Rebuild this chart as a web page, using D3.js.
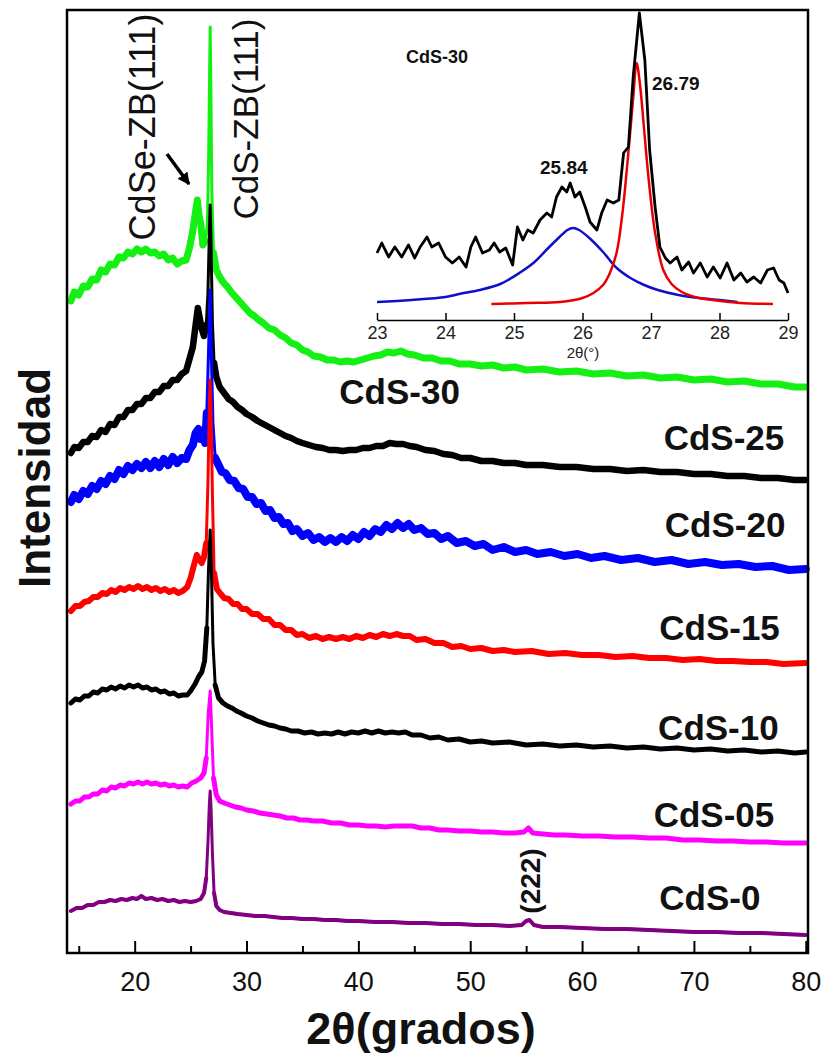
<!DOCTYPE html>
<html><head><meta charset="utf-8">
<script src="https://cdn.jsdelivr.net/npm/d3@7"></script>
<style>body{margin:0;background:#fff}svg{display:block}text{font-family:Arial,"Liberation Sans",sans-serif}</style>
</head><body><svg id="c" width="830" height="1059"></svg>
<script>
// ---- main chart data: [2theta (deg), intensity (a.u., stacked)] ----
const labels = ["CdS-30","CdS-25","CdS-20","CdS-15","CdS-10","CdS-05","CdS-0"];
const colors = ["#14f014","#000000","#0000ff","#ff0000","#000000","#ff00ff","#800080"];
const xMajorTicks = [20,30,40,50,60,70,80];
const xMinorTicks = [15,25,35,45,55,65,75];
const cds30 = [[14.3,652],[14.6,661],[15.0,658],[15.4,667],[15.8,666],[16.2,674],[16.6,673],[17.0,683],[17.4,681],[17.8,689],[18.2,688],[18.6,696],[19.0,695],[19.4,701],[19.8,699],[20.2,704],[20.6,701],[21.0,704],[21.4,700],[21.8,701],[22.2,697],[22.6,699],[23.0,693],[23.4,695],[23.8,689],[24.2,692],[24.6,693],[24.9,705],[25.2,722],[25.45,742],[25.6,753],[25.75,738],[25.9,730],[26.1,708],[26.3,712],[26.5,728],[26.62,800],[26.7,880],[26.75,926],[26.8,880],[26.9,760],[27.05,700],[27.3,683],[27.6,676],[27.9,671],[28.3,666],[28.7,660],[29.1,655],[29.5,650],[29.9,645],[30.3,640],[30.7,637],[31.1,633],[31.5,630],[32.0,625],[32.5,623],[33.0,618],[33.5,615],[34.0,610],[34.5,608],[35.0,603],[35.5,601],[36.0,597],[36.6,596],[37.2,593],[37.8,593],[38.4,591],[39.0,592],[39.6,591],[40.2,593],[40.8,595],[41.4,597],[42.0,598],[42.6,601],[43.2,600],[43.8,602],[44.4,599],[45.0,598],[45.8,595],[46.6,595],[47.4,592],[48.2,592],[49.0,589],[50.0,589],[51.0,587],[52.0,588],[53.0,585],[54.0,586],[55.0,583],[56.5,584],[58.0,581],[59.5,582],[61.0,579],[62.5,580],[64.0,577],[65.5,578],[67.0,575],[68.5,576],[70.0,573],[71.5,574],[73.0,571],[74.5,572],[76.0,569],[77.5,569],[79.0,566],[80.0,566]];
const cds25 = [[14.3,500],[14.6,506],[15.0,505],[15.4,511],[15.8,511],[16.2,517],[16.6,516],[17.0,523],[17.4,521],[17.8,529],[18.2,528],[18.6,536],[19.0,536],[19.4,543],[19.8,543],[20.2,549],[20.6,549],[21.0,555],[21.4,555],[21.8,561],[22.2,561],[22.6,567],[23.0,567],[23.4,573],[23.8,573],[24.2,579],[24.6,582],[24.9,594],[25.2,606],[25.45,628],[25.65,645],[25.8,636],[26.0,624],[26.2,617],[26.4,628],[26.55,660],[26.68,720],[26.75,748],[26.82,715],[26.95,630],[27.1,590],[27.3,576],[27.6,566],[28.0,560],[28.4,554],[28.8,551],[29.2,546],[29.6,543],[30.0,539],[30.5,536],[31.0,532],[31.5,529],[32.0,526],[32.5,523],[33.0,520],[33.5,517],[34.0,515],[34.5,512],[35.0,510],[35.6,508],[36.2,506],[36.8,505],[37.4,503],[38.0,503],[38.6,502],[39.2,503],[39.8,503],[40.4,505],[41.0,505],[41.6,507],[42.2,507],[42.8,510],[43.4,509],[44.0,509],[44.6,507],[45.2,506],[46.0,503],[46.8,502],[47.6,499],[48.4,498],[49.2,495],[50.0,495],[51.0,492],[52.0,492],[53.0,490],[54.0,490],[55.0,488],[56.5,488],[58.0,486],[59.5,486],[61.0,484],[62.5,484],[64.0,482],[65.5,483],[67.0,481],[68.5,481],[70.0,479],[71.5,479],[73.0,477],[74.5,477],[76.0,475],[77.5,475],[79.0,473],[80.0,473]];
const cds20 = [[14.3,451],[14.6,458],[15.0,454],[15.4,462],[15.8,459],[16.2,467],[16.6,464],[17.0,472],[17.4,469],[17.8,477],[18.2,474],[18.6,483],[19.0,479],[19.4,487],[19.8,483],[20.2,489],[20.6,485],[21.0,491],[21.4,485],[21.8,492],[22.2,486],[22.6,494],[23.0,488],[23.4,496],[23.8,490],[24.2,495],[24.6,494],[24.9,503],[25.2,508],[25.45,520],[25.7,524],[25.9,514],[26.1,518],[26.3,510],[26.45,540],[26.6,600],[26.75,663],[26.85,600],[27.0,530],[27.2,495],[27.5,488],[27.8,481],[28.1,480],[28.5,473],[28.9,472],[29.3,465],[29.7,464],[30.1,456],[30.5,456],[30.9,449],[31.3,450],[31.7,442],[32.1,443],[32.5,435],[32.9,436],[33.3,429],[33.7,430],[34.1,422],[34.5,424],[35.0,417],[35.5,420],[36.0,413],[36.5,416],[37.0,411],[37.5,415],[38.0,411],[38.5,416],[39.0,412],[39.5,418],[40.0,414],[40.5,421],[41.0,417],[41.5,424],[42.0,421],[42.5,428],[43.0,424],[43.5,430],[44.0,425],[44.5,429],[45.0,423],[45.6,425],[46.2,419],[46.8,420],[47.4,414],[48.0,417],[48.8,410],[49.6,412],[50.4,407],[51.2,409],[52.0,403],[53.0,406],[54.0,401],[55.0,403],[56.0,399],[57.2,401],[58.4,397],[59.6,399],[60.8,395],[62.0,397],[63.5,393],[65.0,395],[66.5,391],[68.0,393],[69.5,389],[71.0,391],[72.5,388],[74.0,389],[75.5,386],[77.0,387],[78.5,383],[80.0,384]];
const cds15 = [[14.3,342],[14.7,347],[15.1,347],[15.5,351],[15.9,352],[16.3,356],[16.7,356],[17.1,360],[17.5,359],[17.9,363],[18.3,361],[18.7,365],[19.1,363],[19.5,366],[19.9,364],[20.3,367],[20.7,364],[21.1,366],[21.5,363],[21.9,365],[22.3,362],[22.7,364],[23.1,361],[23.5,363],[23.9,360],[24.3,362],[24.7,366],[25.0,375],[25.3,388],[25.55,398],[25.75,394],[26.0,390],[26.2,396],[26.4,410],[26.55,470],[26.68,545],[26.75,573],[26.82,545],[26.95,460],[27.1,380],[27.35,364],[27.7,359],[28.0,355],[28.4,354],[28.8,349],[29.2,349],[29.6,344],[30.0,344],[30.5,339],[31.0,339],[31.5,334],[32.0,334],[32.5,328],[33.0,328],[33.5,323],[34.0,323],[34.5,318],[35.0,319],[35.6,315],[36.2,317],[36.8,314],[37.4,316],[38.0,314],[38.6,316],[39.2,314],[39.8,317],[40.4,315],[41.0,318],[41.6,316],[42.2,319],[42.8,317],[43.4,319],[44.0,317],[44.6,317],[45.2,313],[46.0,314],[46.8,310],[47.6,310],[48.4,306],[49.2,307],[50.0,304],[51.0,305],[52.0,302],[53.0,303],[54.0,301],[55.5,302],[57.0,299],[58.5,300],[60.0,298],[61.5,298],[63.0,296],[64.5,297],[66.0,295],[67.5,295],[69.0,293],[70.5,294],[72.0,292],[73.5,292],[75.0,291],[76.5,291],[78.0,289],[80.0,290]];
const cds10 = [[14.3,250],[14.7,254],[15.1,253],[15.5,257],[15.9,257],[16.3,261],[16.7,260],[17.1,264],[17.5,263],[17.9,266],[18.3,264],[18.7,267],[19.1,265],[19.5,268],[19.9,266],[20.3,268],[20.7,265],[21.1,266],[21.5,263],[21.9,264],[22.3,261],[22.7,262],[23.1,259],[23.5,260],[23.9,257],[24.3,258],[24.7,258],[25.0,262],[25.4,269],[25.7,276],[26.0,281],[26.25,292],[26.45,325],[26.6,383],[26.75,423],[26.85,390],[27.0,310],[27.2,268],[27.5,255],[27.9,250],[28.3,247],[28.7,245],[29.1,242],[29.5,240],[30.0,237],[30.5,235],[31.0,232],[31.5,230],[32.0,228],[32.5,227],[33.0,225],[33.5,224],[34.0,222],[34.6,222],[35.2,220],[35.8,221],[36.4,219],[37.0,220],[37.6,219],[38.2,221],[38.8,219],[39.4,221],[40.0,220],[40.6,222],[41.2,220],[41.8,222],[42.4,220],[43.0,221],[43.6,220],[44.2,221],[44.8,218],[45.6,218],[46.4,215],[47.2,216],[48.0,213],[49.0,214],[50.0,211],[51.0,212],[52.0,210],[53.5,211],[55.0,208],[56.5,209],[58.0,207],[59.5,208],[61.0,206],[62.5,207],[64.0,205],[65.5,206],[67.0,204],[68.5,205],[70.0,203],[71.5,204],[73.0,202],[74.5,203],[76.0,201],[77.5,202],[79.0,200],[80.0,201]];
const cds05 = [[14.3,149],[14.7,152],[15.1,152],[15.5,156],[15.9,156],[16.3,159],[16.7,159],[17.1,163],[17.5,162],[17.9,166],[18.3,165],[18.7,168],[19.1,167],[19.5,170],[19.9,169],[20.3,171],[20.7,169],[21.1,171],[21.5,169],[21.9,170],[22.3,168],[22.7,169],[23.1,167],[23.5,168],[23.9,166],[24.3,167],[24.7,166],[25.1,170],[25.5,172],[25.9,175],[26.2,180],[26.4,195],[26.58,240],[26.75,262],[26.88,225],[27.05,175],[27.3,158],[27.6,152],[28.0,150],[28.5,148],[29.0,146],[29.5,145],[30.0,143],[30.6,142],[31.2,140],[31.8,139],[32.4,138],[33.0,137],[33.6,135],[34.2,135],[34.8,133],[35.4,133],[36.0,132],[36.8,132],[37.6,130],[38.4,130],[39.2,128],[40.0,128],[40.8,127],[41.6,127],[42.4,126],[43.2,127],[44.0,127],[44.8,127],[45.6,125],[46.4,125],[47.2,123],[48.0,123],[49.0,122],[50.0,122],[51.0,121],[52.0,121],[53.0,120],[54.0,120],[54.8,121],[55.2,125],[55.6,120],[56.5,119],[57.5,118],[58.5,118],[60.0,117],[61.5,117],[63.0,116],[64.5,116],[66.0,115],[67.5,115],[69.0,113],[70.5,113],[72.0,112],[73.5,112],[75.0,111],[76.5,111],[78.0,110],[80.0,110]];
const cds0 = [[14.3,42],[14.8,45],[15.3,45],[15.8,48],[16.3,48],[16.8,51],[17.3,51],[17.8,53],[18.3,52],[18.8,54],[19.3,53],[19.8,55],[20.2,54],[20.6,57],[21.0,54],[21.5,55],[22.0,53],[22.5,54],[23.0,52],[23.5,53],[24.0,51],[24.5,52],[25.0,51],[25.5,52],[25.9,54],[26.2,60],[26.4,75],[26.55,110],[26.68,150],[26.75,162],[26.82,148],[26.95,100],[27.1,60],[27.3,47],[27.6,43],[28.0,41],[28.6,40],[29.2,39],[30.0,38],[30.8,37],[31.6,37],[32.4,36],[33.2,35],[34.0,35],[35.0,34],[36.0,34],[37.0,33],[38.0,33],[39.0,32],[40.0,32],[41.5,31],[43.0,31],[44.5,30],[46.0,30],[47.5,29],[49.0,29],[50.5,28],[52.0,28],[53.5,27],[54.6,28],[55.0,32],[55.3,33],[55.7,28],[56.5,26],[58.0,26],[60.0,25],[62.0,24],[64.0,24],[66.0,23],[68.0,22],[70.0,21],[72.0,21],[74.0,20],[76.0,20],[78.0,19],[80.0,18]];
const series = [cds30, cds25, cds20, cds15, cds10, cds05, cds0];
const strokeW = [7, 6.5, 8, 6, 5, 5, 4];
// label anchor positions (data coordinates)
const labelPos = [[38.3,549],[67.3,503],[67.4,416],[66.9,313],[66.8,213],[66.4,126],[66.9,43]];

// ---- inset data ----
const insetTicks = [23,24,25,26,27,28,29];
const insetRaw = [[23.0,67],[23.07,77],[23.17,63],[23.26,73],[23.36,63],[23.46,75],[23.55,62],[23.63,73],[23.73,83],[23.8,73],[23.9,77],[24.0,63],[24.1,57],[24.2,63],[24.3,53],[24.37,73],[24.44,83],[24.54,67],[24.64,70],[24.71,77],[24.79,68],[24.88,72],[24.98,55],[25.05,93],[25.13,80],[25.2,90],[25.28,87],[25.38,100],[25.48,107],[25.55,103],[25.62,123],[25.7,133],[25.77,128],[25.82,137],[25.89,123],[25.96,128],[26.04,113],[26.11,98],[26.21,90],[26.28,107],[26.36,120],[26.45,117],[26.53,120],[26.6,167],[26.67,173],[26.74,243],[26.83,307],[26.91,260],[26.98,170],[27.06,113],[27.13,73],[27.21,62],[27.28,57],[27.38,63],[27.45,50],[27.55,58],[27.62,47],[27.72,57],[27.82,43],[27.91,53],[28.01,42],[28.11,57],[28.21,40],[28.31,47],[28.4,38],[28.5,43],[28.6,37],[28.7,50],[28.79,52],[28.87,40],[28.94,37],[29.0,27]];
const fitBlue = [[23.0,18],[23.5,20],[24.0,23],[24.2,26],[24.5,30],[24.8,36],[25.1,48],[25.3,58],[25.5,72],[25.65,82],[25.78,90],[25.86,92],[25.95,90],[26.1,82],[26.3,68],[26.5,52],[26.7,42],[26.9,35],[27.1,30],[27.4,25],[27.7,22],[28.0,20],[28.26,18]];
const fitRed = [[24.67,16],[25.2,17],[25.67,18],[26.0,22],[26.16,27],[26.3,35],[26.4,47],[26.5,68],[26.58,105],[26.66,160],[26.74,222],[26.79,257],[26.84,235],[26.9,190],[26.97,138],[27.06,87],[27.18,50],[27.3,36],[27.45,28],[27.7,22],[27.9,20],[28.3,17],[28.78,16]];

const svg = d3.select("#c");
const x = d3.scaleLinear().domain([13.95, 80.2]).range([67, 808]);
const y = d3.scaleLinear().domain([0, 943]).range([953, 10]);

// axes
svg.append("g").attr("transform","translate(0,953)")
  .call(d3.axisBottom(x).tickValues(xMajorTicks).tickSize(-12).tickPadding(19))
  .call(g=>{g.select(".domain").remove();g.selectAll("line").attr("stroke","#000").attr("stroke-width",2);
    g.selectAll("text").attr("font-size",27).attr("fill","#111");});
svg.append("g").attr("transform","translate(0,953)")
  .call(d3.axisBottom(x).tickValues(xMinorTicks).tickSize(-7).tickFormat(""))
  .call(g=>{g.select(".domain").remove();g.selectAll("line").attr("stroke","#000").attr("stroke-width",2);});

// noisy band drawn thick away from the sharp (111) reflection, thin line everywhere
const line = d3.line().x(d=>x(d[0])).y(d=>y(d[1]));
const bandLine = d3.line().x(d=>x(d[0])).y(d=>y(d[1])).defined(d=>d[0] < 26.5 || d[0] > 27.0);
series.forEach((s,i)=>{
  const g = svg.append("g");
  g.append("path").attr("d", bandLine(s)).attr("fill","none").attr("stroke",colors[i])
    .attr("stroke-width",strokeW[i]).attr("stroke-linejoin","round").attr("stroke-linecap","round");
  g.append("path").attr("d", line(s)).attr("fill","none").attr("stroke",colors[i])
    .attr("stroke-width",3).attr("stroke-linejoin","round");
});

// frame
svg.append("rect").attr("x",67).attr("y",10).attr("width",741).attr("height",943)
  .attr("fill","none").attr("stroke","#000").attr("stroke-width",2.5);

// series labels
labels.forEach((l,i)=>{
  svg.append("text").attr("x",x(labelPos[i][0])).attr("y",y(labelPos[i][1]))
    .attr("font-size",35).attr("font-weight","bold").attr("fill","#111").text(l);
});

// axis titles
svg.append("text").attr("x",421).attr("y",1044).attr("text-anchor","middle")
  .attr("font-size",45).attr("font-weight","bold").attr("fill","#111").text("2θ(grados)");
svg.append("text").attr("transform","translate(50,478) rotate(-90)").attr("text-anchor","middle")
  .attr("font-size",44).attr("font-weight","bold").attr("fill","#111").text("Intensidad");

// peak annotations
svg.append("text").attr("transform","translate(155,127) rotate(-90)").attr("text-anchor","middle")
  .attr("font-size",36).attr("fill","#111").text("CdSe-ZB(111)");
svg.append("text").attr("transform","translate(258,119) rotate(-90)").attr("text-anchor","middle")
  .attr("font-size",35).attr("fill","#111").text("CdS-ZB(111)");
svg.append("text").attr("transform","translate(540,881) rotate(-90)").attr("text-anchor","middle")
  .attr("font-size",28).attr("font-weight","bold").attr("fill","#111").text("(222)");
// arrow
svg.append("defs").append("marker").attr("id","ah").attr("viewBox","0 0 10 10").attr("refX",9).attr("refY",5)
  .attr("markerWidth",3.5).attr("markerHeight",3.5).attr("orient","auto")
  .append("path").attr("d","M0,0L10,5L0,10z").attr("fill","#000");
svg.append("line").attr("x1",167).attr("y1",154).attr("x2",189).attr("y2",184)
  .attr("stroke","#000").attr("stroke-width",3.5).attr("marker-end","url(#ah)");

// ---- inset ----
const xi = d3.scaleLinear().domain([23,29]).range([377,788]);
const yi = d3.scaleLinear().domain([0,310]).range([320,10]);
const gi = svg.append("g");
gi.append("g").attr("transform","translate(0,320)")
  .call(d3.axisBottom(xi).tickValues(insetTicks).tickFormat(d3.format("d")).tickSize(-7).tickPadding(6).tickSizeOuter(0))
  .call(g=>{g.select(".domain").attr("stroke","#000").attr("stroke-width",1.5);
    g.selectAll("line").attr("stroke","#000").attr("stroke-width",1.5);
    g.selectAll("text").attr("font-size",18).attr("fill","#222");});
const li = d3.line().x(d=>xi(d[0])).y(d=>yi(d[1]));
const lc = d3.line().x(d=>xi(d[0])).y(d=>yi(d[1])).curve(d3.curveCatmullRom);
gi.append("path").attr("d",lc(fitBlue)).attr("fill","none").attr("stroke","#1010c8").attr("stroke-width",2.5);
gi.append("path").attr("d",lc(fitRed)).attr("fill","none").attr("stroke","#e80000").attr("stroke-width",2.5);
gi.append("path").attr("d",li(insetRaw)).attr("fill","none").attr("stroke","#000").attr("stroke-width",2.8).attr("stroke-linejoin","round");
gi.append("text").attr("x",583).attr("y",358).attr("text-anchor","middle").attr("font-size",15).attr("fill","#222").text("2θ(°)");
gi.append("text").attr("x",406).attr("y",63).attr("font-size",18).attr("font-weight","bold").attr("fill","#111").text("CdS-30");
gi.append("text").attr("x",652).attr("y",90).attr("font-size",19).attr("font-weight","bold").attr("fill","#111").text("26.79");
gi.append("text").attr("x",540).attr("y",174).attr("font-size",19).attr("font-weight","bold").attr("fill","#111").text("25.84");
</script></body></html>
